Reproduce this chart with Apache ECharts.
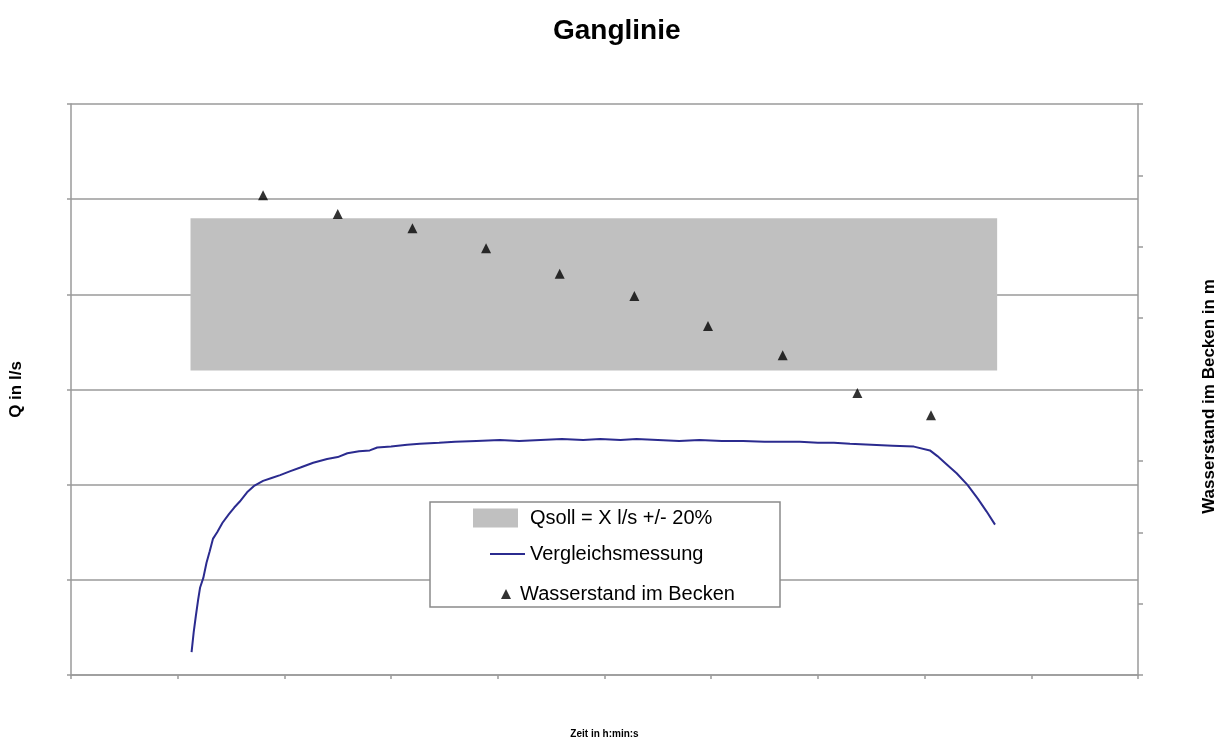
<!DOCTYPE html>
<html>
<head>
<meta charset="utf-8">
<script src="https://cdn.jsdelivr.net/npm/echarts@6/dist/echarts.min.js"></script>
<style>
html,body{margin:0;padding:0;background:#fff;}
#chart{width:1220px;height:740px;}
</style>
</head>
<body>
<div id="chart"></div>
<script>
// ---- data ----
var titleText = 'Ganglinie';
var xAxisName = 'Zeit in h:min:s';
var yLeftName = 'Q in l/s';
var yRightName = 'Wasserstand im Becken in m';
var seriesNames = ['Qsoll = X l/s +/- 20%', 'Vergleichsmessung', 'Wasserstand im Becken'];

// Qsoll band: [xStart, xEnd, yLow, yHigh] (left axis units)
var qsollBand = [[1.12, 8.68, 3.2, 4.8]];

// Vergleichsmessung [x, Q]
var flowX = [1.13,1.15,1.17,1.19,1.21,1.24,1.27,1.30,1.33,1.37,1.42,1.48,1.53,1.58,1.65,1.72,1.80,1.88,1.96,2.05,2.15,2.27,2.40,2.50,2.59,2.70,2.80,2.87,3.00,3.15,3.27,3.45,3.60,3.80,4.02,4.20,4.40,4.60,4.80,4.96,5.15,5.30,5.50,5.70,5.89,6.10,6.30,6.50,6.70,6.83,7.00,7.15,7.30,7.50,7.70,7.90,8.05,8.12,8.20,8.30,8.40,8.50,8.58,8.66];
var flowQ = [0.24,0.45,0.62,0.78,0.92,1.02,1.18,1.30,1.43,1.50,1.60,1.69,1.76,1.82,1.92,1.99,2.04,2.07,2.10,2.14,2.18,2.23,2.27,2.29,2.33,2.35,2.36,2.39,2.40,2.42,2.43,2.44,2.45,2.46,2.47,2.46,2.47,2.48,2.47,2.48,2.47,2.48,2.47,2.46,2.47,2.46,2.46,2.45,2.45,2.45,2.44,2.44,2.43,2.42,2.41,2.40,2.36,2.30,2.22,2.12,2.00,1.85,1.72,1.58];

// Wasserstand im Becken [x, m] (right axis)
var levelX = [1.80,2.50,3.20,3.89,4.58,5.28,5.97,6.67,7.37,8.06];
var levelM = [6.72,6.46,6.26,5.98,5.62,5.31,4.89,4.48,3.95,3.64];

// ---- chart ----
var gridCol = '#9a9a9a';
var lineCol = '#2b2b8f';
var flowData = flowX.map(function(x,i){return [x, flowQ[i]];});
var levelData = levelX.map(function(x,i){return [x, levelM[i]];});

var chart = echarts.init(document.getElementById('chart'));
var fontFam = '"Liberation Sans", Arial, sans-serif';
chart.setOption({
  backgroundColor: '#fff',
  animation: false,
  title: {
    text: titleText, left: 553, top: 17, padding: 0,
    textStyle: {fontFamily: fontFam, fontSize: 28, fontWeight: 'bold', color: '#000'}
  },
  grid: {left: 71, right: 82, top: 104, bottom: 65, outerBoundsMode: 'none', containLabel: false},
  xAxis: {
    type: 'value', min: 0, max: 10, interval: 1,
    name: xAxisName, nameLocation: 'middle', nameGap: 54,
    nameTextStyle: {fontFamily: fontFam, fontSize: 10, fontWeight: 'bold', color: '#000'},
    axisLine: {show: true, lineStyle: {color: gridCol, width: 1.5}},
    axisTick: {show: true, length: 4, lineStyle: {color: gridCol, width: 1.5}},
    axisLabel: {show: false},
    splitLine: {show: false}
  },
  yAxis: [{
    type: 'value', min: 0, max: 6, interval: 1, position: 'left',
    name: yLeftName, nameLocation: 'middle', nameGap: 46, nameRotate: 90,
    nameTextStyle: {fontFamily: fontFam, fontSize: 17, fontWeight: 'bold', color: '#000'},
    axisLine: {show: true, lineStyle: {color: gridCol, width: 1.5}},
    axisTick: {show: true, length: 4, lineStyle: {color: gridCol, width: 1.5}},
    axisLabel: {show: false},
    splitLine: {show: true, lineStyle: {color: gridCol, width: 1.5}}
  }, {
    type: 'value', min: 0, max: 8, interval: 1, position: 'right',
    name: yRightName, nameLocation: 'middle', nameGap: 63, nameRotate: 90,
    nameTextStyle: {fontFamily: fontFam, fontSize: 17, fontWeight: 'bold', color: '#000', padding: [0, 14, 0, 0]},
    axisLine: {show: true, lineStyle: {color: gridCol, width: 1.5}},
    axisTick: {show: true, length: 5, lineStyle: {color: gridCol, width: 1.5}},
    axisLabel: {show: false},
    splitLine: {show: false}
  }],
  graphic: [{
    type: 'rect', z: 3,
    shape: {x: 430, y: 502, width: 350, height: 105},
    style: {fill: '#fff', stroke: '#8a8a8a', lineWidth: 1.5}
  }],
  legend: [{
    data: [{name: seriesNames[0], icon: 'rect'}], left: 473, top: 508, padding: 0, z: 5,
    itemWidth: 45, itemHeight: 19, selectedMode: false,
    textStyle: {fontFamily: fontFam, fontSize: 20, color: '#000', padding: [0,0,0,7]}
  }, {
    data: [{name: seriesNames[1], icon: 'path://M0,0H35V2H0Z', itemStyle: {color: lineCol}}],
    left: 490, top: 544, padding: 0, z: 5,
    itemWidth: 35, itemHeight: 2, selectedMode: false,
    textStyle: {fontFamily: fontFam, fontSize: 20, color: '#000'}
  }, {
    data: [{name: seriesNames[2], icon: 'triangle'}], left: 501, top: 584, padding: 0, z: 5,
    itemWidth: 10, itemHeight: 10, selectedMode: false,
    textStyle: {fontFamily: fontFam, fontSize: 20, color: '#000', padding: [0,0,0,4]}
  }],
  series: [{
    name: seriesNames[0], type: 'custom', xAxisIndex: 0, yAxisIndex: 0,
    itemStyle: {color: '#c0c0c0'},
    renderItem: function(params, api){
      var p1 = api.coord([api.value(0), api.value(3)]);
      var p2 = api.coord([api.value(1), api.value(2)]);
      return {type: 'rect', shape: {x: p1[0], y: p1[1], width: p2[0]-p1[0], height: p2[1]-p1[1]},
              style: {fill: '#c0c0c0'}};
    },
    data: qsollBand, z: 1
  }, {
    name: seriesNames[1], type: 'line', xAxisIndex: 0, yAxisIndex: 0,
    symbol: 'none', data: flowData, z: 2,
    lineStyle: {color: lineCol, width: 2}, itemStyle: {color: lineCol}
  }, {
    name: seriesNames[2], type: 'scatter', xAxisIndex: 0, yAxisIndex: 1,
    symbol: 'triangle', symbolSize: 10, data: levelData, z: 3,
    itemStyle: {color: '#000'}
  }]
});
</script>
</body>
</html>
